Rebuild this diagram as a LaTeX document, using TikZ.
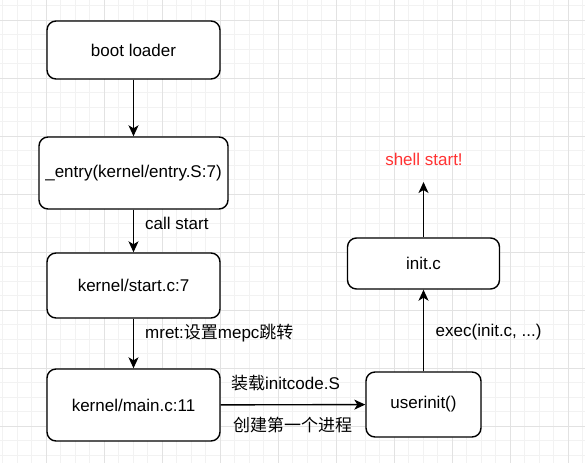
\documentclass[tikz,border=0pt]{standalone}
\usepackage{fontspec}
\setmainfont{Liberation Sans}
\newfontfamily\cjk{Noto Sans CJK SC}
\newcommand{\zh}[1]{{\cjk #1}}
\usetikzlibrary{
  positioning,
  arrows.meta
}
\definecolor{shellred}{RGB}{255,51,51}
\definecolor{gridminor}{RGB}{242,242,242}
\definecolor{gridmajor}{RGB}{226,226,226}

\begin{document}
\begin{tikzpicture}[
  x=1pt, y=-1pt,
  box/.style={
    draw,
    line width=1.4pt,
    rounded corners=9pt,
    minimum width=173pt,
    minimum height=58pt,
    inner sep=0pt,
    align=center,
    fill=white,
    font=\fontsize{17}{20}\selectfont
  },
  lbl/.style={anchor=west, inner sep=0pt, font=\fontsize{17}{20}\selectfont},
  arrow/.style={-{Stealth[length=11pt, width=10pt, inset=3pt]}, line width=1.4pt}
]

% Background grid
\useasboundingbox (0,0) rectangle (585,463);
\fill[white] (0,0) rectangle (585,463);
\begin{scope}
  \clip (0,0) rectangle (585,463);
  \foreach \i in {0,...,40} {
    \draw[gridminor, line width=0.8pt] ({2.8+14.5*\i},0) -- ++(0,463);
  }
  \foreach \i in {0,...,31} {
    \draw[gridminor, line width=0.8pt] (0,{5.8+14.5*\i}) -- ++(585,0);
  }
  \foreach \i in {0,...,9} {
    \draw[gridmajor, line width=0.8pt] ({46.3+58*\i},0) -- ++(0,463);
  }
  \foreach \i in {0,...,7} {
    \draw[gridmajor, line width=0.8pt] (0,{20.3+58*\i}) -- ++(585,0);
  }
\end{scope}

% Left column
\node[box] (boot) at (133.5,50) {boot loader};
\node[box, minimum width=189pt, minimum height=72pt] (entry) at (133.5,173) {\_entry(kernel/entry.S:7)};
\node[box, minimum height=65pt] (start) at (133.5,285.5) {kernel/start.c:7};
\node[box, minimum height=72pt] (main) at (133.5,405) {kernel/main.c:11};

% Right column
\node[box, minimum width=115pt, minimum height=65pt] (userinit) at (423.5,404.5) {userinit()};
\node[box, minimum width=152pt, minimum height=51pt] (initc) at (423.5,263.5) {init.c};
\node[font=\fontsize{17}{20}\selectfont, text=shellred, inner sep=0pt] (shell) at (424,159) {shell start!};
\coordinate (shelltip) at (423.5,182);

% Arrows
\draw[arrow] (boot) -- (entry);
\draw[arrow] (entry) -- (start);
\draw[arrow] (start) -- (main);
\draw[arrow] (main) -- (userinit);
\draw[arrow] (userinit) -- (initc);
\draw[arrow] (initc) -- (shelltip);

% Labels
\node[lbl] (callstart) at (145,223) {call start};
\node[lbl] (mret) at (145,333) {mret:\zh{设置}mepc\zh{跳转}};
\node[lbl] (load) at (231,383) {\zh{装载}initcode.S};
\node[lbl] (create) at (233,425) {\zh{创建第一个进程}};
\node[lbl] (exec) at (435.5,332) {exec(init.c, ...)};

\end{tikzpicture}
\end{document}
